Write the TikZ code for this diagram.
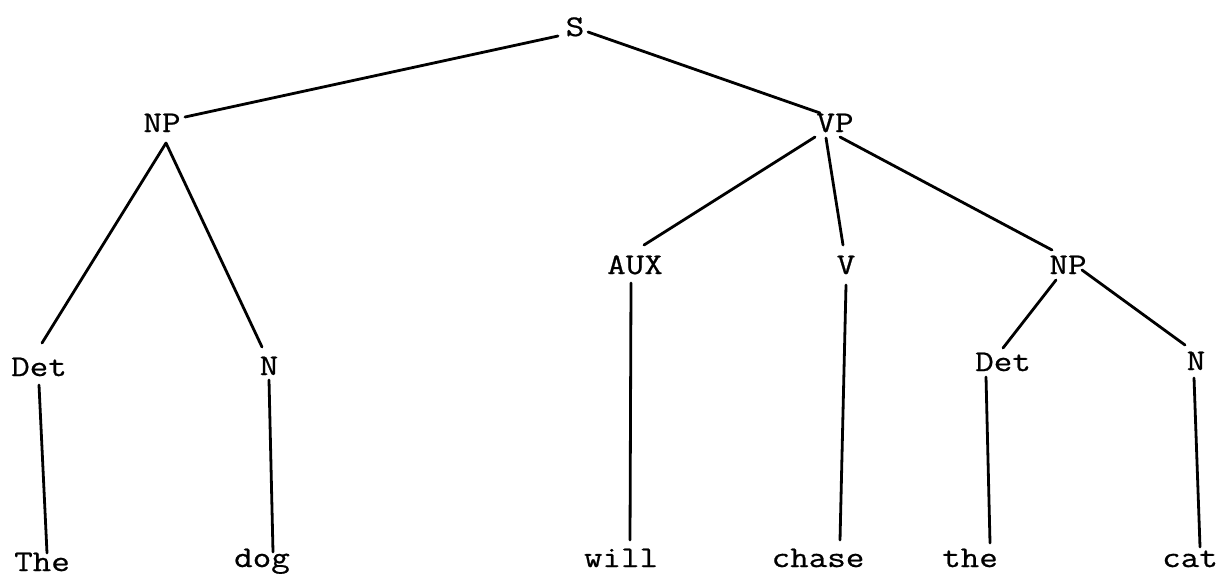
\documentclass[tikz,border=0pt]{standalone}
\usepackage{fontspec}
\newfontfamily\twfont{Latin Modern Mono}[FakeStretch=1.2,FakeBold=0.7]
\usetikzlibrary{calc}
\begin{document}
\begin{tikzpicture}[x=0.5pt,y=-0.5pt,
  lbl/.style={font=\twfont\fontsize{15}{15}\selectfont, anchor=base, inner sep=0pt, text height=9pt, text depth=0pt},
  branch/.style={line width=1.4pt, line cap=round}]
\useasboundingbox (0,0) rectangle (1218,575);
% labels
\node[lbl] (S)   at (575,36)  {S};
\node[lbl] (NPa) at (162,132) {NP};
\node[lbl] (VP)  at (835,132) {VP};
\node[lbl] (AUX) at (635,274) {AUX};
\node[lbl] (V)   at (846,274) {V};
\node[lbl] (NPb) at (1068,274) {NP};
\node[lbl] (Deta) at (39,376) {Det};
\node[lbl] (Na)  at (269,375) {N};
\node[lbl] (Detb) at (1003,371) {Det};
\node[lbl] (Nb)  at (1196,370) {N};
\node[lbl] (wThe)   at (42,571)  {The};
\node[lbl] (wdog)   at (262,567) {dog};
\node[lbl] (wwill)  at (621,567) {will};
\node[lbl] (wchase) at (818,567) {chase};
\node[lbl] (wthe)   at (970,567) {the};
\node[lbl] (wcat)   at (1190,567) {cat};
% branches
\draw[branch] ($(S.base)+(-17,0)$) -- ($(NPa.base)+(23,-15)$);
\draw[branch] ($(S.base)+(13,-4)$) -- ($(VP.base)+(-15,-19)$);
\draw[branch] ($(NPa.base)+(4,11)$) -- ($(Deta.base)+(3,-33)$);
\draw[branch] ($(NPa.base)+(4,11)$) -- ($(Na.base)+(-7,-28)$);
\draw[branch] ($(VP.base)+(-20,5)$) -- ($(AUX.base)+(9,-29)$);
\draw[branch] ($(VP.base)+(-9,6)$) -- ($(V.base)+(-3,-29)$);
\draw[branch] ($(VP.base)+(5,5)$) -- ($(NPb.base)+(-16,-24)$);
\draw[branch] ($(NPb.base)+(-12,6)$) -- ($(Detb.base)+(0,-23)$);
\draw[branch] ($(NPb.base)+(14,-4)$) -- ($(Nb.base)+(-11,-25)$);
\draw[branch] ($(Deta.base)+(0,9)$) -- ($(wThe.base)+(5,-18)$);
\draw[branch] ($(Na.base)+(0,5)$) -- ($(wdog.base)+(11,-15)$);
\draw[branch] ($(AUX.base)+(-4,9)$) -- ($(wwill.base)+(9,-27)$);
\draw[branch] ($(V.base)+(0,11)$) -- ($(wchase.base)+(22,-27)$);
\draw[branch] ($(Detb.base)+(-17,6)$) -- ($(wthe.base)+(20,-24)$);
\draw[branch] ($(Nb.base)+(-2,8)$) -- ($(wcat.base)+(10,-20)$);
\end{tikzpicture}
\end{document}
